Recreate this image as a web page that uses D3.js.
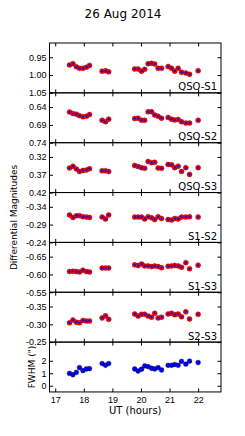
<!DOCTYPE html>
<html>
<head>
<meta charset="utf-8">
<script src="https://cdn.jsdelivr.net/npm/d3@7"></script>
<style>
  body { margin: 0; background: #fff; }
  svg { display: block; font-family: "DejaVu Sans", sans-serif; }
  .tick line { stroke: #000; }
  .tick text { fill: #000; font-size: 9px; }
</style>
</head>
<body>
<svg></svg>
<script>
//Data
const times = [17.50, 17.62, 17.74, 17.85, 17.97, 18.09, 18.20, 18.64, 18.76, 18.87,
               19.78, 19.90, 20.02, 20.13, 20.25, 20.37, 20.48, 20.60, 20.72,
               20.95, 21.07, 21.18, 21.30, 21.42, 21.57, 21.70, 22.00];
const qsoS1 = [0.972, 0.968, 0.977, 0.981, 0.981, 0.978, 0.973, 0.989, 0.988, 0.991,
               0.983, 0.983, 0.989, 0.984, 0.968, 0.967, 0.969, 0.981, 0.981,
               0.976, 0.981, 0.989, 0.981, 0.992, 0.994, 0.998, 0.988];
const qsoS2 = [0.654, 0.658, 0.660, 0.664, 0.667, 0.666, 0.661, 0.677, 0.681, 0.674,
               0.672, 0.671, 0.677, 0.677, 0.653, 0.653, 0.662, 0.666, 0.671,
               0.669, 0.674, 0.676, 0.675, 0.681, 0.685, 0.685, 0.677];
const qsoS3 = [0.351, 0.346, 0.354, 0.361, 0.358, 0.357, 0.353, 0.359, 0.359, 0.361,
               0.344, 0.347, 0.350, 0.352, 0.333, 0.336, 0.335, 0.351, 0.352,
               0.341, 0.342, 0.350, 0.346, 0.361, 0.350, 0.369, 0.350];
const s1s2 = [-0.317, -0.310, -0.315, -0.315, -0.312, -0.311, -0.310, -0.311, -0.306, -0.317,
              -0.311, -0.311, -0.311, -0.306, -0.312, -0.309, -0.304, -0.312, -0.307,
              -0.304, -0.303, -0.307, -0.306, -0.311, -0.311, -0.312, -0.311];
const s1s3 = [-0.608, -0.609, -0.608, -0.607, -0.612, -0.608, -0.607, -0.618, -0.618, -0.618,
              -0.627, -0.625, -0.629, -0.624, -0.624, -0.622, -0.624, -0.622, -0.619,
              -0.623, -0.624, -0.625, -0.624, -0.620, -0.633, -0.616, -0.626];
const s2s3 = [-0.304, -0.312, -0.306, -0.304, -0.311, -0.309, -0.309, -0.318, -0.324, -0.314,
              -0.329, -0.323, -0.328, -0.328, -0.323, -0.320, -0.331, -0.318, -0.320,
              -0.329, -0.331, -0.327, -0.329, -0.321, -0.335, -0.315, -0.328];
const fwhm = [0.99, 0.88, 1.07, 1.45, 1.21, 1.34, 1.37, 1.78, 1.64, 1.78,
              1.34, 1.18, 1.32, 1.59, 1.53, 1.40, 1.34, 1.45, 1.26,
              1.64, 1.64, 1.70, 1.64, 1.95, 1.73, 1.97, 1.86];
const xTicks = [17, 18, 19, 20, 21, 22];

//Panel Setup (magnitude panels are inverted)
const panels = [
  { label: "QSO-S1", values: qsoS1, domain: [0.91, 1.05],   ticks: [0.95, 1.00, 1.05] },
  { label: "QSO-S2", values: qsoS2, domain: [0.60, 0.74],   ticks: [0.64, 0.69, 0.74] },
  { label: "QSO-S3", values: qsoS3, domain: [0.28, 0.42],   ticks: [0.32, 0.37, 0.42] },
  { label: "S1-S2",  values: s1s2,  domain: [-0.38, -0.24], ticks: [-0.34, -0.29, -0.24] },
  { label: "S1-S3",  values: s1s3,  domain: [-0.69, -0.55], ticks: [-0.65, -0.60, -0.55] },
  { label: "S2-S3",  values: s2s3,  domain: [-0.39, -0.25], ticks: [-0.35, -0.30, -0.25] },
  { label: "",       values: fwhm,  domain: [-0.5, 3.5],    ticks: [0, 1, 2], fwhm: true }
];

const w = 245;
const h = 436;
const plotLeft = 49.5;
const plotRight = 221;
const plotTop = 43;
const panelH = 49.85;

const chart = d3.select("svg")
                .attr("width", w)
                .attr("height", h);

const x = d3.scaleLinear()
            .domain([16.8, 22.8])
            .range([plotLeft, plotRight]);

panels.forEach((p, i) => {
  const y0 = plotTop + i * panelH;
  const y1 = y0 + panelH;
  const y = d3.scaleLinear()
              .domain(p.domain)
              .range(p.fwhm ? [y1, y0] : [y0, y1]);
  const fmt = p.fwhm ? (d => d3.format("d")(d)) : (d => d.toFixed(2));

  const g = chart.append("g");

  //Axes with inward ticks
  g.append("g")
   .attr("transform", `translate(${plotLeft},0)`)
   .call(d3.axisLeft(y).tickValues(p.ticks).tickSizeInner(-3.5).tickSizeOuter(0).tickPadding(3).tickFormat(fmt))
   .call(a => a.select(".domain").remove());
  g.append("g")
   .attr("transform", `translate(${plotRight},0)`)
   .call(d3.axisRight(y).tickValues(p.ticks).tickSizeInner(-3.5).tickSizeOuter(0).tickFormat(""))
   .call(a => a.select(".domain").remove());
  g.append("g")
   .attr("transform", `translate(0,${y0})`)
   .call(d3.axisTop(x).tickValues(xTicks).tickSizeInner(-3.5).tickSizeOuter(0).tickFormat(""))
   .call(a => a.select(".domain").remove());
  g.append("g")
   .attr("transform", `translate(0,${y1})`)
   .call(d3.axisBottom(x).tickValues(xTicks).tickSizeInner(-3.5).tickSizeOuter(0).tickPadding(5)
          .tickFormat(i === panels.length - 1 ? d3.format("d") : ""))
   .call(a => a.select(".domain").remove());

  //Frame
  g.append("rect")
   .attr("x", plotLeft)
   .attr("y", y0)
   .attr("width", plotRight - plotLeft)
   .attr("height", panelH)
   .attr("fill", "none")
   .attr("stroke", "#000")
   .attr("stroke-width", 1);

  //Points
  const pts = g.selectAll(".pt")
               .data(times.map((t, k) => [t, p.values[k]]))
               .enter();
  if (p.fwhm) {
    pts.append("circle")
       .attr("cx", d => x(d[0]))
       .attr("cy", d => y(d[1]))
       .attr("r", 2.4)
       .attr("fill", "#0000ff")
       .attr("stroke", "#000")
       .attr("stroke-width", 0.4);
  } else {
    pts.append("circle")
       .attr("cx", d => x(d[0]))
       .attr("cy", d => y(d[1]))
       .attr("r", 2.5)
       .attr("fill", "#ff0000")
       .attr("stroke", "#600")
       .attr("stroke-width", 0.4);
    pts.append("circle")
       .attr("cx", d => x(d[0]))
       .attr("cy", d => y(d[1]))
       .attr("r", 1.1)
       .attr("fill", "#0000ff");
  }

  //Panel label
  if (p.label) {
    g.append("text")
     .attr("x", plotRight - 4)
     .attr("y", y1 - 2.5)
     .attr("text-anchor", "end")
     .attr("font-size", 10)
     .text(p.label);
  }
});

//Labels Setup
chart.append("text")
     .attr("x", 123)
     .attr("y", 17.5)
     .attr("text-anchor", "middle")
     .attr("font-size", 12)
     .text("26 Aug 2014");

chart.append("text")
     .attr("x", (plotLeft + plotRight) / 2)
     .attr("y", 414)
     .attr("text-anchor", "middle")
     .attr("font-size", 10)
     .text("UT (hours)");

chart.append("text")
     .attr("transform", `translate(16.5,${plotTop + 3.5 * panelH}) rotate(-90)`)
     .attr("text-anchor", "middle")
     .attr("font-size", 9)
     .text("Differential Magnitudes");

chart.append("text")
     .attr("transform", `translate(35,${plotTop + 6.5 * panelH}) rotate(-90)`)
     .attr("text-anchor", "middle")
     .attr("font-size", 9)
     .text("FWHM (\")");
</script>
</body>
</html>
